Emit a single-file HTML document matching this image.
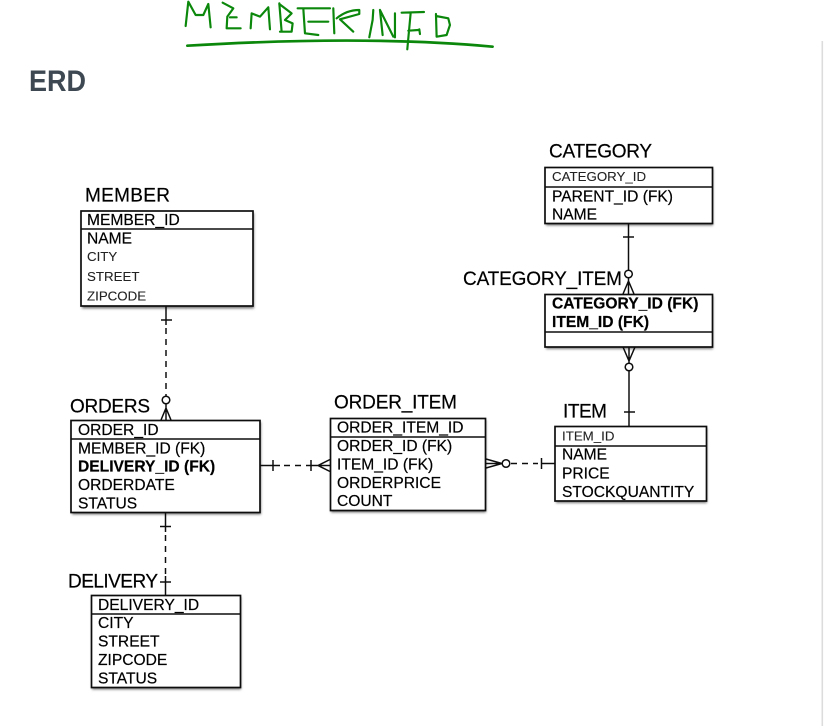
<!DOCTYPE html>
<html>
<head>
<meta charset="utf-8">
<style>
html,body{margin:0;padding:0;background:#fff;width:826px;height:726px;overflow:hidden}
svg{display:block}
text{font-family:"Liberation Sans",sans-serif;fill:#000;stroke:#000;stroke-width:.2}
.t{font-size:19px}
.r{font-size:15.6px}
.l{font-size:13.3px;fill:#222;stroke:#222;stroke-width:.1}
.b{font-size:15.6px;font-weight:bold}
.box{fill:#fff;stroke:#111;stroke-width:1.7}
.sh{fill:#777;filter:url(#blur)}
.ln{stroke:#111;stroke-width:1.5;fill:none}
.da{stroke:#111;stroke-width:1.5;fill:none;stroke-dasharray:6 5}
.c{stroke:#111;stroke-width:1.5;fill:#fff}
</style>
</head>
<body>
<svg width="826" height="726" viewBox="0 0 826 726" xmlns="http://www.w3.org/2000/svg">
<defs>
<filter id="blur" x="-10%" y="-10%" width="120%" height="120%"><feGaussianBlur stdDeviation="1.3"/></filter>
<filter id="soft" x="-2%" y="-2%" width="104%" height="104%"><feGaussianBlur stdDeviation="0.3"/></filter>
</defs>

<rect x="821.5" y="41" width="1.6" height="685" fill="#dcdcdc"/>

<g transform="scale(0.3333)" fill="none" stroke="#0b880b" stroke-width="6.500" stroke-linecap="round" stroke-linejoin="round">
<path d="M557,78 L565,5 L587,45 L610,45 L625,12 L632,82"/>
<path d="M668,8 L700,25 L682,50 L680,85 L722,85 M690,52 L710,52"/>
<path d="M752,85 L755,40 L780,50 L805,22 L810,88"/>
<path d="M838,10 L845,95 M838,12 L875,40 L855,60 L878,70 L875,95 L840,95"/>
<path d="M893,25 L990,25 M910,25 L915,100 L955,105 M925,65 L985,65"/>
<path d="M1000,25 L1003,100"/>
<path d="M1010,55 Q1040,30 1078,30 L1078,42 L1020,58 L1060,95"/>
<path d="M1108,112 L1118,60 L1120,30"/>
<path d="M1140,30 L1148,105 M1140,30 L1180,110 M1185,40 L1185,112"/>
<path d="M1205,38 L1272,36 M1232,40 L1222,148 M1225,92 L1255,90 M1258,88 L1260,102"/>
<path d="M1308,42 L1310,110 L1340,105 L1350,75 L1345,55 L1308,48"/>
<path d="M562,137 Q1100,105 1478,140" stroke-width="8"/>
</g>

<text x="29" y="91" textLength="57" lengthAdjust="spacingAndGlyphs" style="font-size:30px;font-weight:bold;fill:#3d4852;stroke:none">ERD</text>

<g filter="url(#soft)">
<!-- shadows -->
<rect class="sh" x="82" y="213" width="172" height="95.500"/>
<rect class="sh" x="72" y="422" width="189" height="92.500"/>
<rect class="sh" x="92" y="597" width="149" height="92.500"/>
<rect class="sh" x="331" y="420" width="155" height="92.500"/>
<rect class="sh" x="556" y="428" width="151" height="75"/>
<rect class="sh" x="546" y="169" width="167" height="56.500"/>
<rect class="sh" x="546" y="296" width="167" height="53"/>

<!-- boxes -->
<rect class="box" x="81" y="211" width="172" height="95"/><path class="ln" d="M81 229H253"/>
<rect class="box" x="71" y="420.500" width="189" height="92"/><path class="ln" d="M71 439H260"/>
<rect class="box" x="91.500" y="595.500" width="149" height="92"/><path class="ln" d="M91.500 614H240.500"/>
<rect class="box" x="330.500" y="418.500" width="155" height="92"/><path class="ln" d="M330.500 437H485.500"/>
<rect class="box" x="555" y="426.500" width="151.500" height="74.500"/><path class="ln" d="M555 446H706.500"/>
<rect class="box" x="545" y="167.500" width="167.500" height="56"/><path class="ln" d="M545 187H712.500"/>
<rect class="box" x="545" y="294.500" width="167.500" height="52.500"/><path class="ln" d="M545 332H712.500"/>

<!-- Member - Orders -->
<path class="ln" d="M166 306V325M161 320H172"/>
<path class="da" d="M166 328V396"/>
<circle class="c" cx="166" cy="400" r="3.800"/>
<path class="ln" d="M166 404V420M166 408L161 420M166 408L171 420"/>

<!-- Orders - Delivery -->
<path class="ln" d="M165.500 512.500V532M160 526.500H171"/>
<path class="da" d="M165.500 535V575"/>
<path class="ln" d="M165.500 576V595M160 582H171"/>

<!-- Orders - Order item -->
<path class="ln" d="M260 465.500H280M273 460V471"/>
<path class="da" d="M284 465.500H304"/>
<path class="ln" d="M306 465.500H330M311 460V471M318 465.500L330 459.500M318 465.500L330 471.500"/>

<!-- Order item - Item -->
<path class="ln" d="M486 459L502 463.500L486 468M486 463.500H502"/>
<circle class="c" cx="506" cy="463.500" r="3.800"/>
<path class="da" d="M511 463.500H538"/>
<path class="ln" d="M541.500 463.500H555M541.500 458V469"/>

<!-- Category - Category item -->
<path class="ln" d="M628.500 223.500V270M623 237H634"/>
<circle class="c" cx="628.500" cy="274" r="3.800"/>
<path class="ln" d="M628.500 278V294M628.500 281L623 294M628.500 281L634 294"/>

<!-- Category item - Item -->
<path class="ln" d="M629 347V363M623 347L629 361M635 347L629 361"/>
<circle class="c" cx="629" cy="367" r="3.800"/>
<path class="ln" d="M629 371V426M624 412H635"/>

<!-- titles -->
<text class="t" x="85" y="201.500" textLength="85">MEMBER</text>
<text class="t" x="70" y="412.500" textLength="80">ORDERS</text>
<text class="t" x="68" y="587.500" textLength="90">DELIVERY</text>
<text class="t" x="334" y="408.500" textLength="123">ORDER_ITEM</text>
<text class="t" x="563" y="417.500" textLength="44">ITEM</text>
<text class="t" x="549" y="157.500" textLength="103">CATEGORY</text>
<text class="t" x="463" y="285" textLength="159">CATEGORY_ITEM</text>

<!-- member -->
<text class="r" x="87" y="225">MEMBER_ID</text>
<text class="r" x="87" y="243.500">NAME</text>
<text class="l" x="87" y="261">CITY</text>
<text class="l" x="87" y="281">STREET</text>
<text class="l" x="87" y="300.500">ZIPCODE</text>

<!-- orders -->
<text class="r" x="78" y="435">ORDER_ID</text>
<text class="r" x="78" y="453.500">MEMBER_ID (FK)</text>
<text class="b" x="78" y="471.500">DELIVERY_ID (FK)</text>
<text class="r" x="78" y="490">ORDERDATE</text>
<text class="r" x="78" y="508.500">STATUS</text>

<!-- delivery -->
<text class="r" x="98" y="610">DELIVERY_ID</text>
<text class="r" x="98" y="628">CITY</text>
<text class="r" x="98" y="646.500">STREET</text>
<text class="r" x="98" y="665">ZIPCODE</text>
<text class="r" x="98" y="683.500">STATUS</text>

<!-- order item -->
<text class="r" x="337" y="432.500">ORDER_ITEM_ID</text>
<text class="r" x="337" y="451">ORDER_ID (FK)</text>
<text class="r" x="337" y="469.500">ITEM_ID (FK)</text>
<text class="r" x="337" y="488">ORDERPRICE</text>
<text class="r" x="337" y="506">COUNT</text>

<!-- item -->
<text class="l" x="562" y="440.500">ITEM_ID</text>
<text class="r" x="562" y="459.500">NAME</text>
<text class="r" x="562" y="478.500">PRICE</text>
<text class="r" x="562" y="497">STOCKQUANTITY</text>

<!-- category -->
<text class="l" x="552" y="181">CATEGORY_ID</text>
<text class="r" x="552" y="201.500">PARENT_ID (FK)</text>
<text class="r" x="552" y="219.500">NAME</text>

<!-- category item -->
<text class="b" x="552" y="308.500">CATEGORY_ID (FK)</text>
<text class="b" x="552" y="327">ITEM_ID (FK)</text>
</g>
</svg>
</body>
</html>
